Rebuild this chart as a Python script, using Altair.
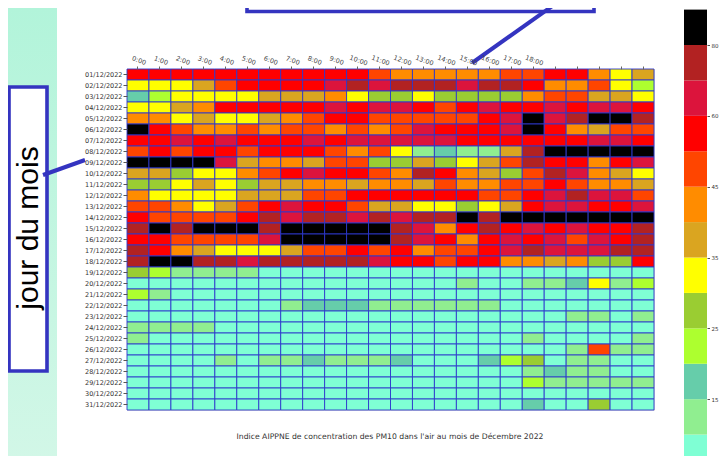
import altair as alt
import pandas as pd

# ---------------- data ----------------
hours = ["0:00", "1:00", "2:00", "3:00", "4:00", "5:00", "6:00", "7:00", "8:00", "9:00",
         "10:00", "11:00", "12:00", "13:00", "14:00", "15:00", "16:00", "17:00", "18:00",
         "19:00", "20:00", "21:00", "22:00", "23:00"]
days = ["01/12/2022", "02/12/2022", "03/12/2022", "04/12/2022", "05/12/2022", "06/12/2022",
        "07/12/2022", "08/12/2022", "09/12/2022", "10/12/2022", "11/12/2022", "12/12/2022",
        "13/12/2022", "14/12/2022", "15/12/2022", "16/12/2022", "17/12/2022", "18/12/2022",
        "19/12/2022", "20/12/2022", "21/12/2022", "22/12/2022", "23/12/2022", "24/12/2022",
        "25/12/2022", "26/12/2022", "27/12/2022", "28/12/2022", "29/12/2022", "30/12/2022",
        "31/12/2022"]

# colour classes of the colour bar (bottom -> top)
band_codes = ["A", "L", "T", "G", "V", "Y", "D", "O", "R", "E", "C", "F", "K"]
band_colors = ["#7fffd4", "#90ee90", "#66cdaa", "#adff2f", "#9acd32", "#ffff00", "#daa520",
               "#ff8c00", "#ff4500", "#ff0000", "#dc143c", "#b22222", "#000000"]
band_values = [7, 12, 17, 22, 27, 32, 37, 42, 47, 55, 65, 75, 85]   # representative PM10 per class
thresholds = [10, 15, 20, 25, 30, 35, 40, 45, 50, 60, 70, 80]
cb_tick_pos = [0, 2, 4, 6, 8, 10, 12]
cb_tick_labels = [5, 15, 25, 35, 45, 60, 80]

# one string per day, one class code per hour (0:00 .. 23:00)
grid = [
    "EEEEEEEEEEEROOOOORREEOYD",
    "YYYDREEEECFCFFFCFFEOORYG",
    "TGYYYYDDDOYVVYVVVVORRDDY",
    "YYDOEEEEECECCERECEECECCE",
    "OOYDYYDOREERRRRRECKCFKKF",
    "KEROORORRORORCEEECKEODRR",
    "EECECEEECECCCCCEEEEEECCE",
    "REREEREEERORYLTLLDFKKKKK",
    "KKKKCDOODRRVVDVYDRFEEOEC",
    "DDVYYORECEEROFEODVRFCODY",
    "VVYDYVDDOODOODROORREROOD",
    "OYYYYDDDRREEEEEERRECFCCR",
    "RROYDRECEERDDYYVYDECCEEC",
    "ERRRREFCFFCFCFFKFKKKKKKK",
    "FKFKKKFKKKKKFCOEFECECEEF",
    "EERRRRCKKKKKFCEOECECRCEF",
    "FEODYYYDRREREORRECFCCCFF",
    "FKKFFCFFFFFCEEREEOODOVVE",
    "VGLLLLAAAAAAAAAAAAAAAAAA",
    "AAAAAAAAAAAAAAALAALLTYLG",
    "GLAAAAAAAAAAAAAAAAAAAAAA",
    "AAAAAAALTTTLLLLLLAAAAAAA",
    "AAAAAAAAAAAAAAAAAAAALLAL",
    "LLLLAAAAAAAAAAAAAAAAAAAA",
    "LAAAAAAAAAAAAAAAAALAAAAL",
    "AAAAAAAAAAAAAAAAAAAALRLL",
    "AAAALALLTLLLTAAATGVALLAA",
    "AAAAAAAAAAAAAAAAAALTLLAA",
    "AAAAAAAAAAAAAAAAAAGLLLLL",
    "AAAAAAAAAAAAAAAAAAAAAAAA",
    "AAAAAAAAAAAAAAAAAATAAVAA",
]
assert len(grid) == 31 and all(len(r) == 24 for r in grid)

title_left = "jour du mois"
title_top = "heure du jour"
caption = "Indice AIPPNE de concentration des PM10 dans l'air au mois de Décembre 2022"

# ---------------- tables ----------------
cells = pd.DataFrame(
    [{"jour": days[i], "heure": hours[j], "pm10": band_values[band_codes.index(ch)]}
     for i, row in enumerate(grid) for j, ch in enumerate(row)]
)
cbar = pd.DataFrame({
    "lo": list(range(len(band_codes))),
    "hi": list(range(1, len(band_codes) + 1)),
    "pm10": band_values,
})
one = pd.DataFrame({"k": [0]})

color_scale = alt.Scale(type="threshold", domain=thresholds, range=band_colors)
BLUE = "#3434c0"

# ---------------- layers ----------------
mint = alt.Chart(one).mark_rect(
    color=alt.Gradient(gradient="linear",
                       stops=[alt.GradientStop(color="#b2f4da", offset=0),
                              alt.GradientStop(color="#d2f7e7", offset=1)],
                       x1=0, x2=0, y1=0, y2=1)
).encode(x=alt.value(-119), x2=alt.value(-70), y=alt.value(-61), y2=alt.value(390))

left_box = alt.Chart(one).mark_rect(fill="white", stroke=BLUE, strokeWidth=3.6).encode(
    x=alt.value(-118), x2=alt.value(-80), y=alt.value(18), y2=alt.value(302))

top_box = alt.Chart(one).mark_rect(fill="white", stroke=BLUE, strokeWidth=3.6).encode(
    x=alt.value(120), x2=alt.value(467), y=alt.value(-150), y2=alt.value(-57.5))

heat = alt.Chart(cells).mark_rect(stroke="#2d38cc", strokeWidth=0.9).encode(
    x=alt.X("heure:O", sort=hours, scale=alt.Scale(paddingInner=0, paddingOuter=0),
            axis=alt.Axis(orient="top", title=None, labelAngle=20, labelAlign="center",
                          labelBaseline="bottom", labelFontSize=6.5, labelColor="#444",
                          labelPadding=3, tickSize=3, tickColor="#666", domain=False,
                          labelExpr="toNumber(split(datum.value, ':')[0]) <= 18 ? datum.value : ''")),
    y=alt.Y("jour:O", sort=days, scale=alt.Scale(paddingInner=0, paddingOuter=0),
            axis=alt.Axis(title=None, labelFontSize=6.5, labelColor="#333", labelPadding=1,
                          tickSize=4, tickColor="#555", domain=False)),
    color=alt.Color("pm10:Q", scale=color_scale, legend=None),
)

cb = alt.Chart(cbar).mark_rect().encode(
    x=alt.value(557), x2=alt.value(580),
    y=alt.Y("lo:Q", scale=alt.Scale(domain=[0, 13], range=[401, -59.4], nice=False, zero=False),
            axis=alt.Axis(orient="right", offset=53, title=None, values=cb_tick_pos,
                          labelExpr=f"{cb_tick_labels}[datum.value / 2]",
                          labelBaseline=alt.condition("datum.value == 0", alt.value("bottom"), alt.value("middle")),
                          labelFontSize=5.5, labelColor="#333", tickSize=2.5, tickColor="#555",
                          domain=False, grid=False, labelPadding=1.5)),
    y2="hi:Q",
    color=alt.Color("pm10:Q", scale=color_scale, legend=None),
)

left_line = alt.Chart(one).mark_rule(color=BLUE, strokeWidth=4).encode(
    x=alt.value(-84), y=alt.value(106), x2=alt.value(-42), y2=alt.value(91))
top_line = alt.Chart(one).mark_rule(color=BLUE, strokeWidth=4).encode(
    x=alt.value(345), y=alt.value(-6), x2=alt.value(431), y2=alt.value(-67))

left_text = alt.Chart(one).mark_text(
    text=title_left, angle=270, fontSize=30, font="Liberation Sans", color="black",
    align="center", baseline="middle").encode(x=alt.value(-98), y=alt.value(159))
top_text = alt.Chart(one).mark_text(
    text=title_top, fontSize=30, font="Liberation Sans", color="black",
    align="center", baseline="alphabetic").encode(x=alt.value(293), y=alt.value(-72))
cap = alt.Chart(one).mark_text(
    text=caption, fontSize=7.7, color="#333", align="center", baseline="middle").encode(
    x=alt.value(263), y=alt.value(368))

chart = alt.layer(
    mint, left_box, top_box, top_text, heat, cb, left_line, top_line, left_text, cap
).resolve_scale(y="independent").properties(
    width=527, height=341,
    autosize=alt.AutoSizeParams(type="none"),
    padding={"left": 119, "top": 61, "right": 66, "bottom": 46},
    background="white",
).configure_view(stroke=None).configure(font="DejaVu Sans")

chart.save("out.html", embed_options={"renderer": "svg", "actions": False})
